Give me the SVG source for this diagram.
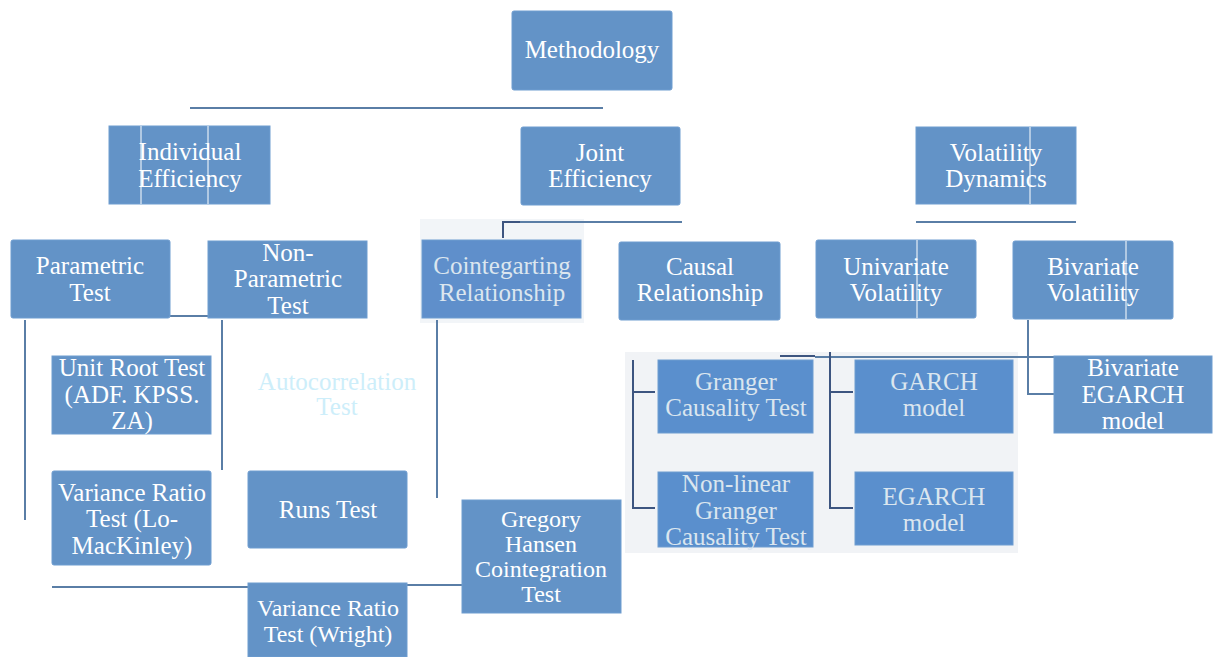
<svg xmlns="http://www.w3.org/2000/svg" width="1215" height="657" viewBox="0 0 1215 657">
<style>
.box{fill:#6393c7;stroke:#6f9dd0;stroke-width:1}
.t{font-family:"Liberation Serif","Times New Roman",serif;font-size:25px;fill:#ffffff;text-anchor:middle}
.s{font-size:24px}
.pale{fill:#dbe6ef}
.auto{fill:#cdeefa}
.ln{stroke:#5a7ea6;stroke-width:2;fill:none}
.dk{stroke:#3d5580;stroke-width:2;fill:none}
.cut{stroke:#ffffff;stroke-width:1}
</style>
<rect x="0" y="0" width="1215" height="657" fill="#ffffff"/>
<!-- pasted panels -->
<rect x="420" y="219" width="164" height="104" fill="#f2f5f8"/>
<rect x="625" y="352" width="393" height="201" fill="#f1f3f6"/>
<g id="connectors">
<line class="ln" x1="190" y1="108" x2="603" y2="108"/>
<line class="ln" x1="520" y1="222" x2="682" y2="222"/>
<polyline class="dk" points="520,222 503,222 503,238"/>
<line class="ln" x1="916" y1="222" x2="1076" y2="222"/>
<line class="ln" x1="170" y1="316" x2="210" y2="316"/>
<line class="ln" x1="25" y1="320" x2="25" y2="520"/>
<line class="ln" x1="222" y1="320" x2="222" y2="470"/>
<line class="ln" x1="437" y1="320" x2="437" y2="498"/>
<line class="ln" x1="52" y1="587" x2="248" y2="587"/>
<line class="ln" x1="407" y1="585" x2="462" y2="585"/>
<polyline class="ln" points="1028,320 1028,394 1054,394"/>
<line class="ln" x1="815" y1="357" x2="1054" y2="357"/>
<line class="dk" x1="780" y1="356" x2="815" y2="356"/>
<polyline class="dk" points="655,392 633,392"/>
<polyline class="dk" points="633,360 633,508 655,508"/>
<polyline class="dk" points="853,392 830,392"/>
<polyline class="dk" points="830,352 830,508 853,508"/>
</g>
<g id="methodology">
<rect class="box" x="512" y="11" width="160" height="79" rx="2"/>
<text class="t" x="592" y="58">Methodology</text>
</g>
<g id="individual-efficiency">
<rect class="box" x="109" y="126" width="161" height="78"/>
<line class="cut" x1="141" y1="126" x2="141" y2="204"/>
<line class="cut" x1="208" y1="126" x2="208" y2="204"/>
<text class="t" x="190" y="160">Individual</text>
<text class="t" x="190" y="187">Efficiency</text>
</g>
<g id="joint-efficiency">
<rect class="box" x="521" y="127" width="159" height="78" rx="2"/>
<text class="t" x="600" y="161">Joint</text>
<text class="t" x="600" y="187">Efficiency</text>
</g>
<g id="volatility-dynamics">
<rect class="box" x="916" y="127" width="160" height="77"/>
<line class="cut" x1="1030" y1="127" x2="1030" y2="204"/>
<text class="t" x="996" y="161">Volatility</text>
<text class="t" x="996" y="187">Dynamics</text>
</g>
<g id="parametric-test">
<rect class="box" x="11" y="240" width="159" height="78" rx="2"/>
<text class="t" x="90" y="274">Parametric</text>
<text class="t" x="90" y="301">Test</text>
</g>
<g id="non-parametric-test">
<rect class="box" x="208" y="241" width="159" height="77"/>
<text class="t" x="288" y="261">Non-</text>
<text class="t" x="288" y="287">Parametric</text>
<text class="t" x="288" y="314">Test</text>
</g>
<g id="cointegrating-relationship">
<rect class="box" x="422" y="240" width="159" height="78" style="fill:#5f8fcb"/>
<text class="t pale" x="502" y="274">Cointegarting</text>
<text class="t pale" x="502" y="301">Relationship</text>
</g>
<g id="causal-relationship">
<rect class="box" x="619" y="242" width="161" height="78" rx="2"/>
<text class="t" x="700" y="275">Causal</text>
<text class="t" x="700" y="301">Relationship</text>
</g>
<g id="univariate-volatility">
<rect class="box" x="816" y="240" width="160" height="78" rx="2"/>
<line class="cut" x1="917" y1="240" x2="917" y2="318"/>
<text class="t" x="896" y="275">Univariate</text>
<text class="t" x="896" y="301">Volatility</text>
</g>
<g id="bivariate-volatility">
<rect class="box" x="1013" y="241" width="160" height="78" rx="2"/>
<line class="cut" x1="1126" y1="241" x2="1126" y2="319"/>
<text class="t" x="1093" y="275">Bivariate</text>
<text class="t" x="1093" y="301">Volatility</text>
</g>
<g id="bivariate-egarch">
<rect class="box" x="1054" y="356" width="158" height="77"/>
<text class="t" x="1133" y="376">Bivariate</text>
<text class="t" x="1133" y="403">EGARCH</text>
<text class="t" x="1133" y="429">model</text>
</g>
<g id="unit-root-test">
<rect class="box" x="52" y="356" width="159" height="78"/>
<text class="t" x="132" y="376">Unit Root Test</text>
<text class="t" x="132" y="403">(ADF. KPSS.</text>
<text class="t" x="132" y="429">ZA)</text>
</g>
<g id="autocorrelation-test">
<text class="t auto" x="337" y="390">Autocorrelation</text>
<text class="t auto" x="337" y="415">Test</text>
</g>
<g id="variance-ratio-lomackinley">
<rect class="box" x="52" y="471" width="159" height="94" rx="2"/>
<text class="t" x="132" y="501">Variance Ratio</text>
<text class="t" x="132" y="527">Test (Lo-</text>
<text class="t" x="132" y="554">MacKinley)</text>
</g>
<g id="runs-test">
<rect class="box" x="248" y="471" width="159" height="77" rx="2"/>
<text class="t" x="328" y="518">Runs Test</text>
</g>
<g id="gregory-hansen">
<rect class="box" x="462" y="500" width="159" height="113"/>
<text class="t s" x="541" y="527">Gregory</text>
<text class="t s" x="541" y="552">Hansen</text>
<text class="t s" x="541" y="577">Cointegration</text>
<text class="t s" x="541" y="602">Test</text>
</g>
<g id="variance-ratio-wright">
<rect class="box" x="248" y="583" width="159" height="74"/>
<text class="t s" x="328" y="616">Variance Ratio</text>
<text class="t s" x="328" y="642">Test (Wright)</text>
</g>
<g id="granger-causality">
<rect class="box" x="658" y="360" width="155" height="73" style="fill:#5a8fcd"/>
<text class="t pale" x="736" y="390">Granger</text>
<text class="t pale" x="736" y="416">Causality Test</text>
</g>
<g id="nonlinear-granger">
<rect class="box" x="658" y="472" width="155" height="75" style="fill:#5a8fcd"/>
<text class="t pale" x="736" y="492">Non-linear</text>
<text class="t pale" x="736" y="519">Granger</text>
<text class="t pale" x="736" y="545">Causality Test</text>
</g>
<g id="garch">
<rect class="box" x="855" y="360" width="158" height="73" style="fill:#5a8fcd"/>
<text class="t pale" x="934" y="390">GARCH</text>
<text class="t pale" x="934" y="416">model</text>
</g>
<g id="egarch">
<rect class="box" x="855" y="472" width="158" height="73" style="fill:#5a8fcd"/>
<text class="t pale" x="934" y="505">EGARCH</text>
<text class="t pale" x="934" y="531">model</text>
</g>
</svg>
